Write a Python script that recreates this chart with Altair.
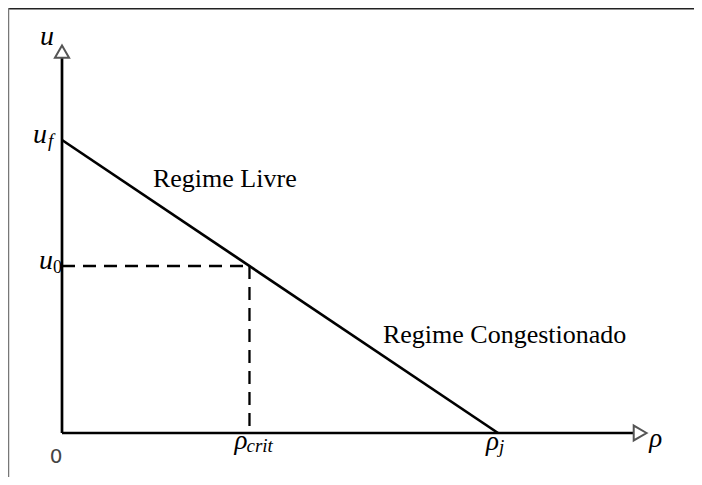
import altair as alt
import pandas as pd

# ---- data (model quantities, normalised) ----
RHO_CRIT = 0.43     # critical density
RHO_J = 1.0         # jam density
U_F = 1.0           # free-flow speed
U_0 = 0.57          # speed at critical density
RHO_AXIS_END = 1.31 # end of the density axis (arrow base)
U_AXIS_END = 1.28   # end of the speed axis (arrow base)
RHO_ARROW = 1.326
U_ARROW = 1.302

W, H = 686, 469
xs = alt.Scale(domain=[-0.123853, 1.449541], nice=False, zero=False)
ys = alt.Scale(domain=[-0.150171, 1.450512], nice=False, zero=False)

SERIF = "Liberation Serif, DejaVu Serif, serif"


def seg_df(rows):
    return pd.DataFrame(rows, columns=["x", "y", "x2", "y2"])


def enc_seg():
    return dict(
        x=alt.X("x:Q", scale=xs, axis=None),
        y=alt.Y("y:Q", scale=ys, axis=None),
        x2="x2:Q",
        y2="y2:Q",
    )


solid = alt.Chart(seg_df([
    [0, 0, RHO_AXIS_END, 0],
    [0, 0, 0, U_AXIS_END],
    [0, U_F, RHO_J, 0],
])).mark_rule(color="black", strokeWidth=2.7).encode(**enc_seg())

dashed = alt.Chart(seg_df([
    [0, U_0, RHO_CRIT, U_0],
    [RHO_CRIT, U_0, RHO_CRIT, 0],
])).mark_rule(color="black", strokeWidth=2.3, strokeDash=[13, 8]).encode(**enc_seg())

arr_up = alt.Chart(pd.DataFrame({"x": [0], "y": [U_ARROW]})).mark_point(
    shape="triangle-up", filled=False, size=200, color="#555", strokeWidth=2, opacity=1
).encode(x=alt.X("x:Q", scale=xs, axis=None), y=alt.Y("y:Q", scale=ys, axis=None))

arr_right = alt.Chart(pd.DataFrame({"x": [RHO_ARROW], "y": [0]})).mark_point(
    shape="triangle-right", filled=False, size=220, color="#555", strokeWidth=2, opacity=1
).encode(x=alt.X("x:Q", scale=xs, axis=None), y=alt.Y("y:Q", scale=ys, axis=None))


def label(rho, u, text, size, dx=0, dy=0, align="left", style="italic",
          font=SERIF, color="black"):
    df = pd.DataFrame({"rho": [rho], "u": [u], "t": [text]})
    return alt.Chart(df).mark_text(
        align=align, baseline="alphabetic", dx=dx, dy=dy, fontSize=size,
        fontStyle=style, font=font, color=color
    ).encode(
        x=alt.X("rho:Q", scale=xs, axis=None),
        y=alt.Y("u:Q", scale=ys, axis=None),
        text="t:N",
    )


labels = [
    label(0, U_ARROW, "u", 28, dx=-15, dy=-7, align="center"),
    label(0, U_F, "u", 28, dx=-15, dy=3, align="right"),
    label(0, U_F, "f", 19, dx=-14, dy=7),
    label(0, U_0, "u", 28, dx=-9, dy=3, align="right"),
    label(0, U_0, "0", 18, dx=-9, dy=7, style="normal"),
    label(RHO_CRIT, 0, "ρ", 27, dx=-15, dy=16),
    label(RHO_CRIT, 0, "crit", 19, dx=-3, dy=19),
    label(RHO_J, 0, "ρ", 27, dx=-12, dy=17),
    label(RHO_J, 0, "j", 19, dx=1, dy=20),
    label(RHO_ARROW, 0, "ρ", 27, dx=9, dy=14),
    label(0, 0, "0", 20, dx=-6, dy=30, align="center", style="normal",
          font="DejaVu Sans", color="#444"),
    label(0.2087, 0.8396, "Regime Livre", 26, style="normal"),
    label(0.7362, 0.3072, "Regime Congestionado", 26, style="normal"),
]

frame_top = alt.Chart(pd.DataFrame({"a": [0]})).mark_rule(color="#222", strokeWidth=2).encode(
    x=alt.value(0), x2=alt.value(W), y=alt.value(0.5))
frame_left = alt.Chart(pd.DataFrame({"a": [0]})).mark_rule(color="#777", strokeWidth=1.5).encode(
    x=alt.value(0.5), y=alt.value(0), y2=alt.value(H))

chart = alt.layer(
    frame_top, frame_left, dashed, solid, arr_up, arr_right, *labels
).properties(
    width=W, height=H, padding=0, autosize=alt.AutoSizeParams(type="none"),
    background="white",
).configure_view(stroke=None)

chart.save("out.html", embed_options={"renderer": "svg", "actions": False})
